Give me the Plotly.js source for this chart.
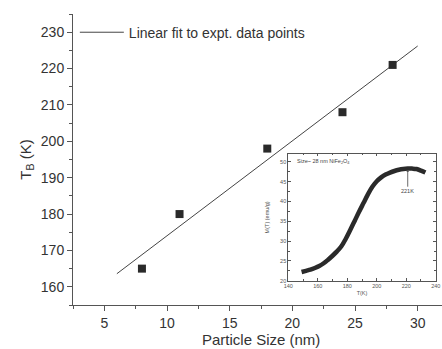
<!DOCTYPE html>
<html>
<head>
<meta charset="utf-8">
<script src="https://cdn.plot.ly/plotly-3.0.1.min.js"></script>
<style>html,body{margin:0;padding:0;background:#fff;}#chart{width:442px;height:349px;}</style>
</head>
<body>
<div id="chart"></div>
<script>
// Main data: blocking temperature vs particle size
const particleSize = [8, 11, 18, 24, 28];
const blockingTemp = [165, 180, 198, 208, 221];
// Linear fit endpoints
const fitX = [6, 30];
const fitY = [163.6, 226.2];
// Inset data: M(T) vs T for 28 nm NiFe2O4
const insetT = [149,152,155,158,161,164,167,170,173,176,179,182,185,188,191,194,197,200,203,206,209,212,215,218,221,224,227,230,233];
const insetM = [22.2,22.5,22.8,23.2,23.7,24.4,25.3,26.3,27.4,28.7,30.6,32.8,35.1,37.4,39.6,41.8,43.7,45.1,46.1,46.8,47.3,47.7,48.0,48.2,48.3,48.3,48.2,47.8,47.3];
const peakT = 221;
const peakM = 48.3;
const mainYTicks = [160,170,180,190,200,210,220,230];
const mainXTicks = [5,10,15,20,25,30];

const txt = '#333333';
const ax = '#555555';
const fontFam = 'Liberation Sans, Arial, sans-serif';

const traces = [
  {x: fitX, y: fitY, type: 'scatter', mode: 'lines', name: 'Linear fit to expt. data points',
   line: {color: '#444444', width: 1}, xaxis: 'x', yaxis: 'y', showlegend: true},
  {x: particleSize, y: blockingTemp, type: 'scatter', mode: 'markers', name: 'data',
   marker: {symbol: 'square', size: 8, color: '#2a2a2a'}, xaxis: 'x', yaxis: 'y', showlegend: false},
  {x: insetT, y: insetM, type: 'scatter', mode: 'lines', name: 'M(T)',
   line: {color: '#2a2a2a', width: 4.5, shape: 'spline', smoothing: 1}, xaxis: 'x3', yaxis: 'y3', showlegend: false}
];

const layout = {
  width: 442, height: 349,
  margin: {l: 73, r: 0, t: 14, b: 44},
  paper_bgcolor: '#fff', plot_bgcolor: '#fff',
  font: {family: fontFam, color: txt, size: 14},
  showlegend: true,
  legend: {x: 0.005, y: 0.936, xanchor: 'left', yanchor: 'middle', bgcolor: 'rgba(0,0,0,0)',
           itemwidth: 44, font: {size: 14, color: txt}},
  xaxis: {range: [2.5, 31.94], tickvals: mainXTicks, ticks: 'outside', ticklen: 5, tickcolor: ax,
          showline: true, linecolor: ax, linewidth: 1, showgrid: false, zeroline: false,
          tickfont: {size: 14, color: txt},
          minor: {dtick: 2.5, tick0: 0, ticks: 'outside', ticklen: 3, tickcolor: ax}},
  xaxis2: {overlaying: 'x', matches: 'x', side: 'top', range: [2.5, 31.94], tickvals: mainXTicks,
           ticks: 'inside', ticklen: 5, tickcolor: ax, showticklabels: false,
           showline: true, linecolor: ax, linewidth: 1, showgrid: false, zeroline: false,
           minor: {dtick: 2.5, tick0: 0, ticks: 'inside', ticklen: 3, tickcolor: ax}},
  yaxis: {range: [155, 235], tickvals: mainYTicks, ticks: 'outside', ticklen: 5, tickcolor: ax,
          showline: true, linecolor: ax, linewidth: 1, showgrid: false, zeroline: false,
          tickfont: {size: 14, color: txt},
          title: {text: 'T<sub>B</sub> (K)', font: {size: 15, color: txt}, standoff: 5},
          minor: {dtick: 5, tick0: 0, ticks: 'outside', ticklen: 3, tickcolor: ax}},
  xaxis3: {domain: [0.5835, 0.983], anchor: 'y3', range: [140, 240], dtick: 20, tick0: 140,
           ticks: 'inside', ticklen: 2.5, tickcolor: ax, mirror: 'ticks',
           showline: true, linecolor: ax, linewidth: 1, showgrid: false, zeroline: false,
           tickfont: {size: 5.5, color: '#555'},
           title: {text: 'T(K)', font: {size: 5.5, color: '#555'}, standoff: 2},
           minor: {dtick: 10, ticks: 'inside', ticklen: 1.5, tickcolor: ax}},
  yaxis3: {domain: [0.0835, 0.519], anchor: 'x3', range: [20, 52], dtick: 5, tick0: 20,
           ticks: 'inside', ticklen: 2.5, tickcolor: ax, mirror: 'ticks',
           showline: true, linecolor: ax, linewidth: 1, showgrid: false, zeroline: false,
           tickfont: {size: 5.5, color: '#555'},
           title: {text: 'M(T) (emu/g)', font: {size: 5.5, color: '#555'}, standoff: 10},
           minor: {dtick: 2.5, ticks: 'inside', ticklen: 1.5, tickcolor: ax}},
  shapes: [
    {type: 'rect', xref: 'x3 domain', yref: 'y3 domain', x0: 0, x1: 1, y0: 0, y1: 1,
     fillcolor: '#fff', line: {width: 0}, layer: 'below'}
  ],
  annotations: [
    {xref: 'x', yref: 'paper', x: 17.5, y: -0.119, yanchor: 'middle', showarrow: false,
     text: 'Particle Size (nm)', font: {size: 15, color: txt}},
    {xref: 'x3', yref: 'y3', x: 144.5, y: 50, xanchor: 'left', showarrow: false,
     text: 'Size~ 28 nm NiFe<sub>2</sub>O<sub>4</sub>', font: {size: 5.5, color: '#444'}},
    {xref: 'x3', yref: 'y3', x: peakT, y: peakM - 0.4, axref: 'x3', ayref: 'y3', ax: peakT, ay: 42.6,
     text: '221K', showarrow: true, arrowhead: 1, arrowsize: 0.6, arrowwidth: 0.8, arrowcolor: '#444',
     font: {size: 5.5, color: '#444'}}
  ]
};

Plotly.newPlot('chart', traces, layout, {staticPlot: true, displayModeBar: false});
</script>
</body>
</html>
